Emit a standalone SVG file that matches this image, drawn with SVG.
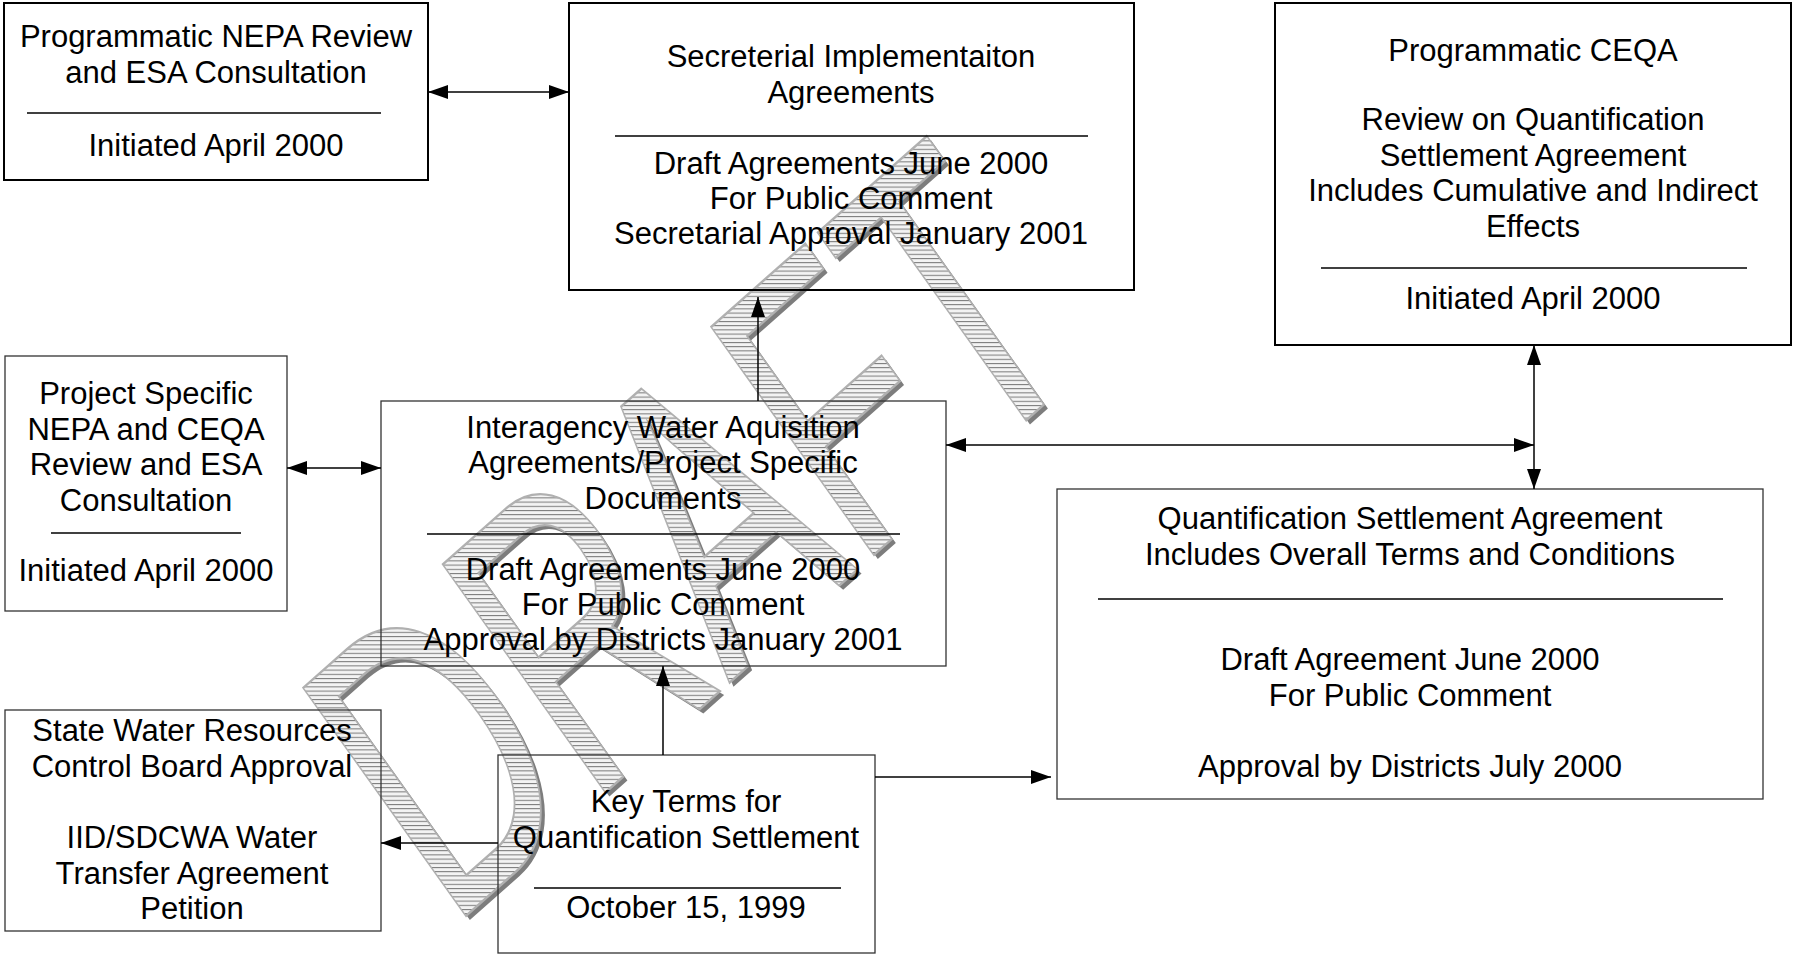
<svg xmlns="http://www.w3.org/2000/svg" width="1794" height="956" viewBox="0 0 1794 956">
<style>
.bk{fill:none;stroke:#000;stroke-width:2}
.bt{fill:none;stroke:#333;stroke-width:1.3}
.t{font-family:"Liberation Sans",Arial,sans-serif;font-size:31px;fill:#000;text-anchor:middle}
.dv{stroke:#000;stroke-width:1.5}
#connectors line{stroke:#000;stroke-width:1.5;fill:none}
.wm{font-family:"Liberation Sans",Arial,sans-serif;font-size:405px}
</style>
<defs>
<pattern id="hatch" patternUnits="userSpaceOnUse" width="8" height="4.2" patternTransform="scale(1.5699,1) skewX(6) rotate(41.5)">
<rect width="8" height="4.2" fill="#f3f3f3"/>
<rect width="8" height="1" fill="#777"/>
</pattern>
<marker id="arr" viewBox="0 0 20 14" refX="20" refY="7" markerWidth="20" markerHeight="14" markerUnits="userSpaceOnUse" orient="auto-start-reverse">
<path d="M0,0 L20,7 L0,14 z" fill="#000"/>
</marker>
</defs>
<rect width="1794" height="956" fill="#fff"/>
<g id="watermark">
<g transform="translate(454,934) rotate(-41.5) skewX(-6) scale(0.637,1)">
<text class="wm" x="0" y="0" fill="#7d7d7d">DRAFT</text>
</g>
<g transform="translate(450,930) rotate(-41.5) skewX(-6) scale(0.637,1)">
<text class="wm" x="0" y="0" fill="url(#hatch)" stroke="#b0b0b0" stroke-width="2" vector-effect="non-scaling-stroke">DRAFT</text>
</g>
</g>
<g id="n1">
<rect class="bk" x="4" y="3" width="424" height="177"/>
<text class="t" x="216" y="47">Programmatic NEPA Review</text>
<text class="t" x="216" y="83">and ESA Consultation</text>
<line class="dv" x1="27" y1="113" x2="381" y2="113"/>
<text class="t" x="216" y="156">Initiated April 2000</text>
</g>
<g id="n2">
<rect class="bk" x="569" y="3" width="565" height="287"/>
<text class="t" x="851" y="67">Secreterial Implementaiton</text>
<text class="t" x="851" y="103">Agreements</text>
<line class="dv" x1="615" y1="136" x2="1088" y2="136"/>
<text class="t" x="851" y="174">Draft Agreements June 2000</text>
<text class="t" x="851" y="209">For Public Comment</text>
<text class="t" x="851" y="244">Secretarial Approval January 2001</text>
</g>
<g id="n3">
<rect class="bk" x="1275" y="3" width="516" height="342"/>
<text class="t" x="1533" y="61">Programmatic CEQA</text>
<text class="t" x="1533" y="130">Review on Quantification</text>
<text class="t" x="1533" y="166">Settlement Agreement</text>
<text class="t" x="1533" y="201">Includes Cumulative and Indirect</text>
<text class="t" x="1533" y="237">Effects</text>
<line class="dv" x1="1321" y1="268" x2="1747" y2="268"/>
<text class="t" x="1533" y="309">Initiated April 2000</text>
</g>
<g id="n4">
<rect class="bt" x="5" y="356" width="282" height="255"/>
<text class="t" x="146" y="404">Project Specific</text>
<text class="t" x="146" y="440">NEPA and CEQA</text>
<text class="t" x="146" y="475">Review and ESA</text>
<text class="t" x="146" y="511">Consultation</text>
<line class="dv" x1="51" y1="533" x2="241" y2="533"/>
<text class="t" x="146" y="581">Initiated April 2000</text>
</g>
<g id="n5">
<rect class="bt" x="381" y="401" width="565" height="265"/>
<text class="t" x="663" y="438">Interagency Water Aquisition</text>
<text class="t" x="663" y="473">Agreements/Project Specific</text>
<text class="t" x="663" y="509">Documents</text>
<line class="dv" x1="427" y1="534" x2="900" y2="534"/>
<text class="t" x="663" y="580">Draft Agreements June 2000</text>
<text class="t" x="663" y="615">For Public Comment</text>
<text class="t" x="663" y="650">Approval by Districts January 2001</text>
</g>
<g id="n6">
<rect class="bt" x="1057" y="489" width="706" height="310"/>
<text class="t" x="1410" y="529">Quantification Settlement Agreement</text>
<text class="t" x="1410" y="565">Includes Overall Terms and Conditions</text>
<line class="dv" x1="1098" y1="599" x2="1723" y2="599"/>
<text class="t" x="1410" y="670">Draft Agreement June 2000</text>
<text class="t" x="1410" y="706">For Public Comment</text>
<text class="t" x="1410" y="777">Approval by Districts July 2000</text>
</g>
<g id="n7">
<rect class="bt" x="5" y="710" width="376" height="221"/>
<text class="t" x="192" y="741">State Water Resources</text>
<text class="t" x="192" y="777">Control Board Approval</text>
<text class="t" x="192" y="848">IID/SDCWA Water</text>
<text class="t" x="192" y="884">Transfer Agreement</text>
<text class="t" x="192" y="919">Petition</text>
</g>
<g id="n8">
<rect class="bt" x="498" y="755" width="377" height="198"/>
<text class="t" x="686" y="812">Key Terms for</text>
<text class="t" x="686" y="848">Quantification Settlement</text>
<line class="dv" x1="534" y1="888" x2="841" y2="888"/>
<text class="t" x="686" y="918">October 15, 1999</text>
</g>
<g id="connectors">
<line x1="428" y1="92" x2="569" y2="92" marker-start="url(#arr)" marker-end="url(#arr)"/>
<line x1="287" y1="468" x2="381" y2="468" marker-start="url(#arr)" marker-end="url(#arr)"/>
<line x1="758" y1="401" x2="758" y2="297" marker-end="url(#arr)"/>
<line x1="946" y1="445" x2="1534" y2="445" marker-start="url(#arr)" marker-end="url(#arr)"/>
<line x1="1534" y1="345" x2="1534" y2="489" marker-start="url(#arr)" marker-end="url(#arr)"/>
<line x1="663" y1="755" x2="663" y2="666" marker-end="url(#arr)"/>
<line x1="875" y1="777" x2="1051" y2="777" marker-end="url(#arr)"/>
<line x1="498" y1="843" x2="381" y2="843" marker-end="url(#arr)"/>
</g>
</svg>
